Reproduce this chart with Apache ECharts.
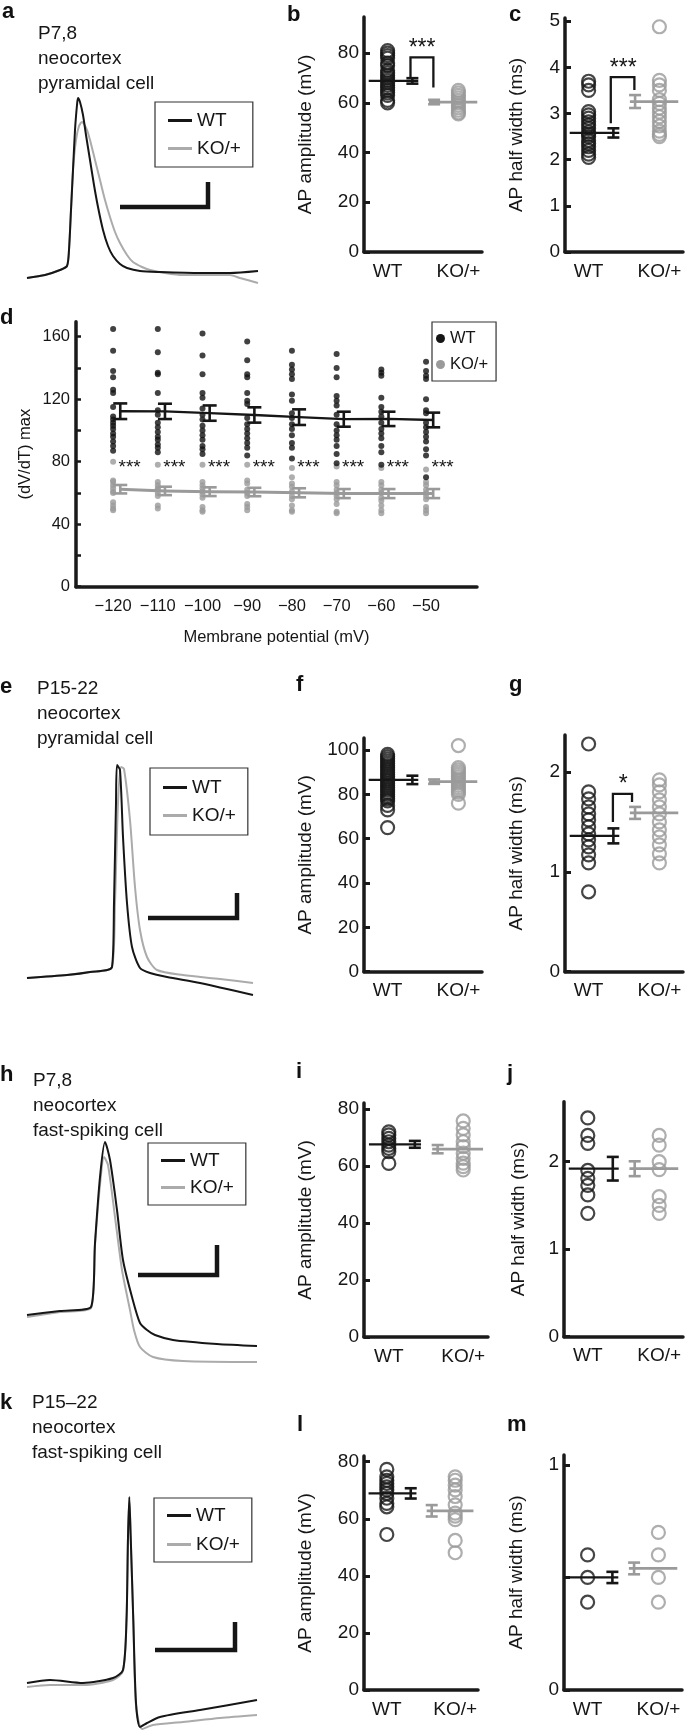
<!DOCTYPE html>
<html><head><meta charset="utf-8">
<script src="https://cdn.jsdelivr.net/npm/echarts@6/dist/echarts.min.js"></script>
<style>html,body{margin:0;padding:0;background:#fff}#c{width:685px;height:1732px}</style>
</head><body><div id="c"></div>
<script>
// ---------------- DATA ----------------
const groups = ['WT', 'KO/+'];
// Example AP traces (time, voltage in arbitrary units)
const traceA_WT = [[27,12],[45,15],[60,20],[67,24],[69,40],[71,80],[73,120],[75,160],[77,185],[78,192],[80,188],[83,175],[86,155],[90,130],[94,105],[98,83],[103,60],[108,44],[113,34],[120,26],[127,22],[140,19],[160,18],[200,17],[230,17],[258,19]];
const traceA_KO = [[27,12],[45,15],[60,20],[67,24],[69,40],[71,80],[73,120],[76,150],[79,164],[82,168],[84,166],[87,160],[90,150],[95,130],[100,110],[105,90],[110,73],[115,58],[120,47],[127,35],[133,28],[142,23],[150,20],[165,17],[183,15],[210,15],[230,15],[240,12],[258,7]];
const traceE_WT = [[27,22],[67,25],[90,28],[112,33],[114,97],[116,197],[117,235],[120,230],[123,163],[127,97],[132,53],[140,32],[150,27],[167,23],[200,17],[253,5]];
const traceE_KO = [[27,22],[67,25],[90,28],[112,33],[115,97],[118,197],[121,233],[124,231],[130,180],[135,113],[140,70],[147,43],[157,30],[183,25],[220,21],[253,17]];
const traceH_WT = [[27,55],[60,59],[91,63],[95,127],[100,193],[105,228],[110,210],[117,160],[123,110],[132,73],[140,47],[147,40],[155,35],[173,30],[217,26],[257,24]];
const traceH_KO = [[27,53],[60,58],[91,62],[95,125],[100,185],[104,213],[108,205],[115,153],[122,100],[130,60],[134,40],[140,23],[153,13],[183,9],[257,8]];
const traceK_WT = [[27,49],[50,52],[83,49],[113,54],[123,62],[126.5,112],[128,195],[129.3,235],[130.7,195],[133.3,112],[136,29],[140,5],[147,9],[160,15],[200,22],[257,32]];
const traceK_KO = [[27,45],[50,47],[83,47],[113,52],[123,61],[126.5,112],[128,195],[129.3,233],[130.7,195],[133.3,112],[136,27],[142,3],[153,7],[183,10],[220,14],[257,17]];
// scale bars (same units as traces)
const scaleA = [[120,83],[208,83],[208,108]];
const scaleE = [[148,82],[237,82],[237,107]];
const scaleH = [[138,95],[217,95],[217,125]];
const scaleK = [[155,82],[235,82],[235,110]];

const descA = ['P7,8', 'neocortex', 'pyramidal cell'];
const descE = ['P15-22', 'neocortex', 'pyramidal cell'];
const descH = ['P7,8', 'neocortex', 'fast-spiking cell'];
const descK = ['P15\u201322', 'neocortex', 'fast-spiking cell'];

// panel b: AP amplitude (mV), P7,8 pyramidal
const bWT = [81,80,79,78,76,75,73,72,71,70,69,68,67,66,65,64,63,61,60];
const bKO = [65,64,63,62,61,60,59,58,57,56,55.5];
const bMean = [68.8, 60.3];
const bSem = [1.1, 0.9];
const bBracket = [[1.97,70.2],[1.97,78.3],[2.94,78.3],[2.94,66.2]];
// panel c: AP half width (ms)
const cWT = [3.7,3.62,3.5,3.04,2.97,2.9,2.82,2.75,2.68,2.6,2.55,2.5,2.42,2.35,2.28,2.2,2.12,2.05];
const cKO = [4.88,3.72,3.62,3.5,3.3,3.22,3.12,3.03,2.93,2.83,2.73,2.62,2.55,2.5];
const cMean = [2.58, 3.26];
const cSem = [0.1, 0.14];
const cBracket = [[1.94,2.79],[1.94,3.79],[2.94,3.79],[2.94,3.51]];
// panel d: (dV/dT) max vs membrane potential
const dPotentials = [-120,-110,-100,-90,-80,-70,-60,-50];
const dWtDots = [
  [165,151,138,134,126,124,115,109,107,105,103,101,98,96,93,90,87],
  [165,150,137,136,124,113,110,105,102,99,96,94,91,89,86],
  [162,148,136,124,121,114,110,107,103,100,97,94,90,88,85],
  [157,145,136,134,124,119,117,108,104,101,98,95,92,89,84],
  [151,142,139,136,133,123,119,111,108,104,101,97,92,89,82],
  [149,140,134,122,119,116,110,104,100,97,94,90,85,79],
  [139,137,135,121,115,112,109,105,101,98,95,90,86,78],
  [144,138,135,133,120,113,111,105,102,99,96,93,88,84,70]
];
const dKoDots = [
  [80,68,67,65,63,61,60,54,52,50,49],
  [78,67,65,63,62,60,58,52,50],
  [78,67,65,63,61,59,57,51,49,48],
  [78,68,66,62,60,58,53,51,49],
  [76,70,66,64,61,58,56,52,49,48],
  [77,67,65,62,60,58,56,53,48,47],
  [76,67,65,62,60,57,55,52,49,47],
  [75,67,65,62,60,58,56,51,49,47]
];
const dWtMean = [112.3,112.2,111.1,109.9,108.5,107.2,107.4,106.7];
const dWtSem = [5.0,4.9,4.9,4.9,5.0,4.8,4.6,4.7];
const dKoMean = [62.4,61.3,60.8,60.6,60.1,59.6,59.6,59.6];
const dKoSem = [2.7,2.7,2.8,2.7,2.9,2.9,2.9,2.9];
const dYLabels = [0,40,80,120,160];
const dYTicks = [0,20,40,60,80,100,120,140,160];
// panel f
const fWT = [98,97,96,95,94,93,92,91,90,89,88,87,86,85,84,83,82,81,80,79,78,77,75,73,65];
const fKO = [102,92,91,90,89,88,87,86,85,84,83,82,81,80,76];
const fMean = [86.5, 85.7];
const fSem = [1.9, 1.0];
// panel g
const gWT = [2.28,1.8,1.73,1.65,1.58,1.52,1.45,1.38,1.32,1.25,1.17,1.09,0.8];
const gKO = [1.92,1.87,1.8,1.72,1.65,1.58,1.5,1.42,1.35,1.27,1.18,1.09];
const gMean = [1.36, 1.59];
const gSem = [0.075, 0.06];
const gBracket = [[2.03,1.5],[2.03,1.78],[2.84,1.78],[2.84,1.7]];
// panel i
const iWT = [72,70.9,69.7,68.5,67.3,66.2,65,60.9];
const iKO = [75.8,73.2,70.9,68.5,66.8,64.5,62.7,61,59.8,58.6];
const iMean = [67.6, 65.9];
const iSem = [1.2, 1.45];
// panel j
const jWT = [2.5,2.3,2.21,1.9,1.81,1.73,1.62,1.41];
const jKO = [2.3,2.19,2.0,1.91,1.6,1.5,1.41];
const jMean = [1.92, 1.92];
const jSem = [0.135, 0.085];
// panel l
const lWT = [77.3,74.7,73.5,72.4,71.2,70.1,68.9,67.2,65.4,64.2,54.5];
const lKO = [74.7,73.5,71.8,70.1,67.8,64.9,62,60.9,59.7,52.4,48.1];
const lMean = [68.9, 62.8];
const lSem = [1.8, 2.0];
// panel m
const mWT = [0.6,0.5,0.39];
const mKO = [0.7,0.6,0.5,0.39];
const mMean = [0.5, 0.54];
const mSem = [0.025, 0.026];

// ---------------- STYLE / LAYOUT ----------------
const FONT = '"Liberation Sans", Arial, Helvetica, sans-serif';
const FONT_N = '"Liberation Sans Narrow", "Liberation Sans", Arial, sans-serif';
const FS_D = 16.5;
const BLACK = '#161616', GRAY = '#9a9a9a', TGRAY = '#ababab', TXT = '#161616', AX = '#1a1a1a';
const FS = 19;
const POS = {wt:1, wtErr:2.05, koErr:2.97, ko:4.0, wtLine:[0.2,2.3], koLine:[2.75,4.8]};

const grids = [], xAxes = [], yAxes = [], series = [], legends = [], graphics = [];

function lineSeries(gi, data, color, width, z) {
  return {type:'line', xAxisIndex:gi, yAxisIndex:gi, data, symbol:'none', silent:true,
    lineStyle:{color, width, join:'miter', cap:'butt'}, itemStyle:{color}, z:z||4};
}
function errSeries(gi, data, color, capHalf, lw) {
  return {type:'custom', xAxisIndex:gi, yAxisIndex:gi, data, encode:{x:0, y:[1,2]}, z:5, silent:true,
    renderItem: function (p, api) {
      const x = api.value(0);
      const a = api.coord([x, api.value(1)]), b = api.coord([x, api.value(2)]);
      const st = {stroke:color, lineWidth:lw, fill:null};
      return {type:'group', children:[
        {type:'line', shape:{x1:a[0], y1:a[1], x2:b[0], y2:b[1]}, style:st},
        {type:'line', shape:{x1:a[0]-capHalf, y1:a[1], x2:a[0]+capHalf, y2:a[1]}, style:st},
        {type:'line', shape:{x1:b[0]-capHalf, y1:b[1], x2:b[0]+capHalf, y2:b[1]}, style:st}
      ]};
    }};
}
function textSeries(gi, data, text, size, font) {
  return {type:'custom', xAxisIndex:gi, yAxisIndex:gi, data, encode:{x:0, y:1}, z:6, silent:true,
    renderItem: function (p, api) {
      const c = api.coord([api.value(0), api.value(1)]);
      return {type:'text', x:c[0], y:c[1], style:{text, fontSize:size, fontFamily:font, fill:TXT, align:'center', verticalAlign:'middle'}};
    }};
}

function addTracePanel(top, height, wt, ko, bar, leg) {
  const gi = grids.length;
  grids.push({left:0, top, width:270, height, outerBoundsMode:'none'});
  xAxes.push({type:'value', gridIndex:gi, min:0, max:270, show:false});
  yAxes.push({type:'value', gridIndex:gi, min:0, max:height, show:false});
  series.push({type:'line', name:'KO/+', xAxisIndex:gi, yAxisIndex:gi, data:ko, symbol:'none', smooth:0.25, silent:true,
    lineStyle:{color:TGRAY, width:2}, itemStyle:{color:TGRAY}, z:2});
  series.push({type:'line', name:'WT', xAxisIndex:gi, yAxisIndex:gi, data:wt, symbol:'none', smooth:0.25, silent:true,
    lineStyle:{color:BLACK, width:2}, itemStyle:{color:BLACK}, z:3});
  series.push(lineSeries(gi, bar, BLACK, 4.5, 4));
  legends.push({left:leg[0], top:leg[1], orient:'vertical', selectedMode:false, itemWidth:24, itemHeight:3, itemGap:leg[2],
    padding:[leg[3], 12, leg[3], 13], borderColor:'#333', borderWidth:1.2,
    textStyle:{fontSize:FS, fontFamily:FONT, color:TXT},
    data:[{name:'WT', icon:'rect', itemStyle:{color:BLACK, borderWidth:0}},
          {name:'KO/+', icon:'rect', itemStyle:{color:TGRAY, borderWidth:0}}]});
}

function addStatPanel(g, d) {
  const gi = grids.length;
  grids.push({left:g.left, top:g.top, width:g.width, height:g.height, outerBoundsMode:'none'});
  xAxes.push({type:'value', gridIndex:gi, min:0, max:5,
    axisLine:{show:true, onZero:false, lineStyle:{color:AX, width:3.5}},
    axisTick:{show:false}, splitLine:{show:false},
    axisLabel:{customValues:[POS.wt, POS.ko], formatter:v => (v === POS.wt ? groups[0] : groups[1]),
      fontSize:FS, fontFamily:FONT, color:TXT, margin:10}});
  yAxes.push({type:'value', gridIndex:gi, min:0, max:g.max,
    name:g.name, nameLocation:'middle', nameGap:g.gap, nameRotate:90, nameMoveOverlap:false,
    nameTextStyle:{fontSize:FS, fontFamily:FONT, color:TXT},
    axisLine:{show:true, onZero:false, lineStyle:{color:AX, width:3.5}},
    axisTick:{show:true, inside:true, length:6, customValues:g.ticks, lineStyle:{color:AX, width:3}},
    axisLabel:{customValues:g.labels, fontSize:FS, fontFamily:FONT, color:TXT, margin:5},
    splitLine:{show:false}});
  const circ = (name, vals, x, color) => ({type:'scatter', name, xAxisIndex:gi, yAxisIndex:gi, silent:true,
    data:vals.map(v => [x, v]), symbol:'circle', symbolSize:13,
    itemStyle:{color:'rgba(0,0,0,0)', borderColor:color, borderWidth:2.2}, z:3});
  series.push(circ('WT', d.wt, POS.wt, BLACK));
  series.push(circ('KO/+', d.ko, POS.ko, GRAY));
  series.push(lineSeries(gi, POS.wtLine.map(x => [x, d.mean[0]]), BLACK, 2.3, 4));
  series.push(lineSeries(gi, POS.koLine.map(x => [x, d.mean[1]]), GRAY, 2.8, 4));
  series.push(errSeries(gi, [[POS.wtErr, d.mean[0]-d.sem[0], d.mean[0]+d.sem[0]]], BLACK, 6, 2.6));
  series.push(errSeries(gi, [[POS.koErr, d.mean[1]-d.sem[1], d.mean[1]+d.sem[1]]], GRAY, 6, 2.6));
  if (d.bracket) series.push(lineSeries(gi, d.bracket, BLACK, 2.3, 5));
  if (d.star) series.push(textSeries(gi, [d.star], d.starText, 23, FONT));
}

// ----- trace panels & stat panels -----
addTracePanel(90, 200, traceA_WT, traceA_KO, scaleA, [155, 102, 9, 9]);
addStatPanel({left:364, top:17, width:118, height:235, max:94.5, labels:[0,20,40,60,80], ticks:[0,20,40,60,80], name:'AP amplitude (mV)', gap:49},
  {wt:bWT, ko:bKO, mean:bMean, sem:bSem, bracket:bBracket, star:[2.46, 81.9], starText:'***'});
addStatPanel({left:565, top:18, width:118, height:234, max:5.07, labels:[0,1,2,3,4,5], ticks:[0,1,2,3,4,5], name:'AP half width (ms)', gap:39},
  {wt:cWT, ko:cKO, mean:cMean, sem:cSem, bracket:cBracket, star:[2.47, 3.98], starText:'***'});

// ----- panel d -----
(function () {
  const gi = grids.length;
  const OFF = 1.6, STAR = 3.7;
  grids.push({left:76, top:321.7, width:401, height:265, outerBoundsMode:'none'});
  xAxes.push({type:'value', gridIndex:gi, min:-128.3, max:-38.6,
    name:'Membrane potential (mV)', nameLocation:'middle', nameGap:42, nameMoveOverlap:false,
    nameTextStyle:{fontSize:FS_D, fontFamily:FONT_N, color:TXT},
    axisLine:{show:true, onZero:false, lineStyle:{color:AX, width:3.5}},
    axisTick:{show:false}, splitLine:{show:false},
    axisLabel:{customValues:dPotentials, formatter:v => '\u2212' + Math.abs(v), fontSize:FS_D, fontFamily:FONT_N, color:TXT, margin:11}});
  yAxes.push({type:'value', gridIndex:gi, min:0, max:169.6,
    name:'(dV/dT) max', nameLocation:'middle', nameGap:42, nameRotate:90, nameMoveOverlap:false,
    nameTextStyle:{fontSize:FS_D, fontFamily:FONT_N, color:TXT},
    axisLine:{show:true, onZero:false, lineStyle:{color:AX, width:3.5}},
    axisTick:{show:true, inside:true, length:5, customValues:dYTicks, lineStyle:{color:AX, width:2.5}},
    axisLabel:{customValues:dYLabels, fontSize:FS_D, fontFamily:FONT_N, color:TXT, margin:6},
    splitLine:{show:false}});
  const wtPts = [], koPts = [];
  dPotentials.forEach((p, i) => {
    dWtDots[i].forEach(v => wtPts.push([p, v]));
    dKoDots[i].forEach(v => koPts.push([p, v]));
  });
  series.push({type:'scatter', name:'KO/+', xAxisIndex:gi, yAxisIndex:gi, data:koPts, symbol:'circle', symbolSize:6, silent:true, itemStyle:{color:GRAY}, z:2});
  series.push({type:'scatter', name:'WT', xAxisIndex:gi, yAxisIndex:gi, data:wtPts, symbol:'circle', symbolSize:6, silent:true, itemStyle:{color:'#111'}, z:2});
  series.push(lineSeries(gi, dPotentials.map((p, i) => [p + OFF, dWtMean[i]]), BLACK, 2.3, 4));
  series.push(lineSeries(gi, dPotentials.map((p, i) => [p + OFF, dKoMean[i]]), GRAY, 3, 4));
  series.push(errSeries(gi, dPotentials.map((p, i) => [p + OFF, dWtMean[i] - dWtSem[i], dWtMean[i] + dWtSem[i]]), BLACK, 7, 2.6));
  series.push(errSeries(gi, dPotentials.map((p, i) => [p + OFF, dKoMean[i] - dKoSem[i], dKoMean[i] + dKoSem[i]]), GRAY, 7, 2.6));
  series.push(textSeries(gi, dPotentials.map(p => [p + STAR, 76.1]), '***', 19, FONT_N));
  legends.push({left:432, top:322, orient:'vertical', selectedMode:false, itemWidth:9, itemHeight:9, itemGap:9,
    padding:[8, 8, 8, 4], borderColor:'#333', borderWidth:1.2,
    textStyle:{fontSize:FS_D, fontFamily:FONT_N, color:TXT},
    data:[{name:'WT', icon:'circle', itemStyle:{color:BLACK, borderWidth:0}},
          {name:'KO/+', icon:'circle', itemStyle:{color:GRAY, borderWidth:0}}]});
})();

addTracePanel(750, 250, traceE_WT, traceE_KO, scaleE, [150, 768, 9, 10]);
addStatPanel({left:364, top:738, width:118, height:233.7, max:105.4, labels:[0,20,40,60,80,100], ticks:[0,20,40,60,80,100], name:'AP amplitude (mV)', gap:49},
  {wt:fWT, ko:fKO, mean:fMean, sem:fSem});
addStatPanel({left:565, top:735, width:118, height:236.7, max:2.37, labels:[0,1,2], ticks:[0,1,2], name:'AP half width (ms)', gap:39},
  {wt:gWT, ko:gKO, mean:gMean, sem:gSem, bracket:gBracket, star:[2.47, 1.87], starText:'*'});

addTracePanel(1130, 240, traceH_WT, traceH_KO, scaleH, [148, 1143, 8, 8]);
addStatPanel({left:364, top:1103, width:124, height:234, max:82.1, labels:[0,20,40,60,80], ticks:[0,20,40,60,80], name:'AP amplitude (mV)', gap:49},
  {wt:iWT, ko:iKO, mean:iMean, sem:iSem});
addStatPanel({left:564, top:1101.7, width:119, height:235, max:2.686, labels:[0,1,2], ticks:[0,1,2], name:'AP half width (ms)', gap:36},
  {wt:jWT, ko:jKO, mean:jMean, sem:jSem});

addTracePanel(1480, 252, traceK_WT, traceK_KO, scaleK, [154, 1498, 10, 8]);
addStatPanel({left:364, top:1456, width:114, height:234, max:82, labels:[0,20,40,60,80], ticks:[0,20,40,60,80], name:'AP amplitude (mV)', gap:49},
  {wt:lWT, ko:lKO, mean:lMean, sem:lSem});
addStatPanel({left:564, top:1455, width:118, height:235, max:1.044, labels:[0,1], ticks:[0,0.5,1], name:'AP half width (ms)', gap:38},
  {wt:mWT, ko:mKO, mean:mMean, sem:mSem});

// ----- panel letters and cell descriptions -----
const letters = [['a',2,12],['b',287,15],['c',509,14.5],['d',0,318],['e',0,687],['f',296,685],['g',509,685],
  ['h',0,1075],['i',296,1072],['j',507,1074],['k',0,1403],['l',297,1425],['m',507,1425]];
letters.forEach(l => graphics.push({type:'text', x:l[1], y:l[2], silent:true,
  style:{text:l[0], fontSize:22, fontWeight:'bold', fontFamily:FONT, fill:'#111', verticalAlign:'middle'}}));
[[descA, 38, 34], [descE, 37, 689], [descH, 33, 1081], [descK, 32, 1403]].forEach(d => {
  d[0].forEach((t, k) => graphics.push({type:'text', x:d[1], y:d[2] + k * 25, silent:true,
    style:{text:t, fontSize:FS, fontFamily:FONT, fill:TXT, verticalAlign:'middle'}}));
});

const chart = echarts.init(document.getElementById('c'), null, {renderer:'canvas'});
chart.setOption({
  animation:false, backgroundColor:'#ffffff', textStyle:{fontFamily:FONT},
  grid:grids, xAxis:xAxes, yAxis:yAxes, series, legend:legends, graphic:graphics
});
</script></body></html>
